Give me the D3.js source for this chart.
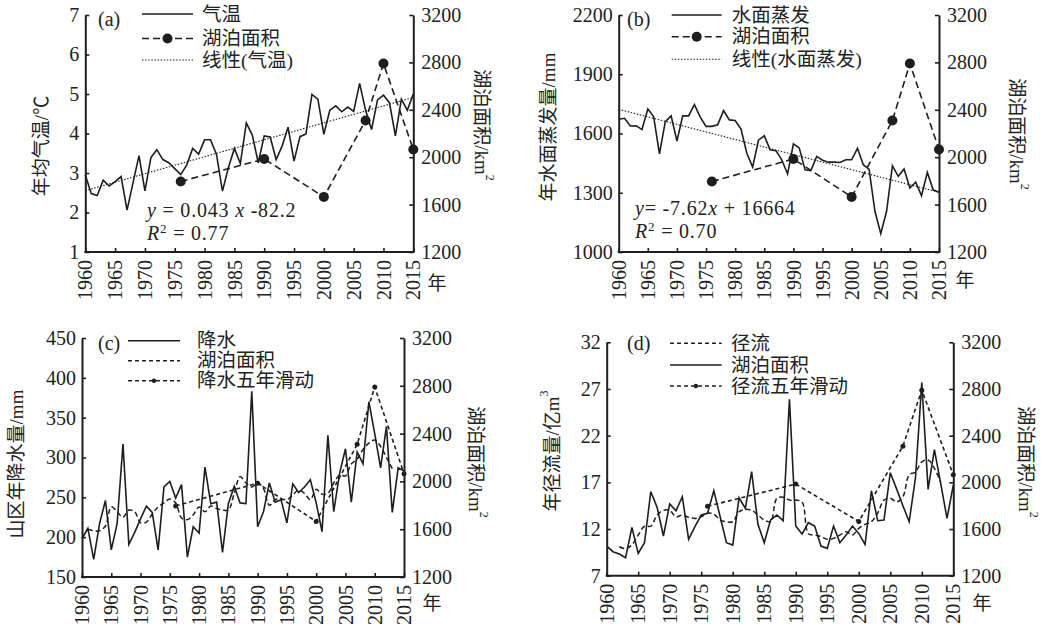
<!DOCTYPE html>
<html>
<head>
<meta charset="utf-8">
<style>
  body { margin: 0; background: #fff; }
  svg text { font-family: "Liberation Serif", "Noto Sans CJK SC", serif; fill: #222; }
</style>
</head>
<body>
<script src="https://cdnjs.cloudflare.com/ajax/libs/d3/7.8.5/d3.min.js"></script>
<script>
// ---- data ----
const years = d3.range(1960, 2016);
const temperature = [2.95, 2.48, 2.43, 2.82, 2.67, 2.78, 2.91, 2.06, 2.75, 3.44,
  2.55, 3.39, 3.59, 3.34, 3.26, 3.11, 2.96, 3.2, 3.62, 3.48,
  3.84, 3.84, 3.47, 2.54, 3.14, 3.62, 3.24, 4.27, 3.96, 3.26,
  3.94, 3.91, 3.34, 3.68, 4.16, 3.30, 3.92, 3.99, 4.99, 4.87,
  3.98, 4.59, 4.70, 4.55, 4.67, 4.56, 5.27, 4.59, 4.10, 4.85,
  4.97, 4.78, 3.94, 4.87, 4.59, 5.0];
const evaporation = [1672, 1677, 1638, 1639, 1620, 1724, 1686, 1497, 1660, 1689,
  1562, 1689, 1689, 1746, 1683, 1636, 1636, 1644, 1716, 1669,
  1666, 1622, 1500, 1430, 1566, 1588, 1517, 1513, 1467, 1395,
  1548, 1527, 1416, 1412, 1484, 1465, 1455, 1455, 1453, 1467,
  1467, 1525, 1442, 1418, 1206, 1093, 1206, 1437, 1383, 1420,
  1324, 1354, 1285, 1403, 1315, 1302];
const precipitation = [198, 211, 172, 217, 246, 184, 217, 317, 191, 206,
  223, 239, 231, 184, 263, 270, 249, 266, 175, 213,
  205, 288, 242, 244, 181, 242, 264, 243, 242, 383,
  213, 232, 268, 244, 247, 218, 267, 256, 263, 272,
  243, 207, 328, 232, 280, 311, 244, 307, 292, 370,
  330, 287, 339, 231, 287, 283];
const precipMAStart = 1961;
const precipMA = [210, 208, 208, 214, 238, 232, 225, 234, 232, 218,
  219, 229, 238, 243, 248, 243, 224, 222, 228, 238,
  232, 239, 236, 234, 234, 255, 276, 268, 263, 268,
  261, 240, 247, 248, 247, 253, 259, 255, 247, 260,
  254, 255, 268, 278, 277, 292, 298, 310, 318, 322,
  314, 300, 286];
const runoff = [10.17, 9.57, 9.32, 8.93, 12.18, 9.39, 10.53, 16.0, 14.32, 11.25,
  14.68, 13.96, 15.46, 10.89, 12.25, 13.5, 13.68, 16.1, 13.32, 10.53,
  10.28, 15.35, 14.21, 18.14, 12.5, 10.53, 12.96, 13.5, 12.89, 25.9,
  12.32, 11.46, 12.68, 12.32, 10.17, 9.93, 12.32, 10.53, 11.35, 12.32,
  11.53, 10.35, 16.1, 12.89, 12.96, 18.03, 16.3, 14.5, 12.78, 17.5,
  27.7, 16.25, 20.5, 16.9, 13.14, 16.7];
const runoffMAStart = 1962;
const runoffMA = [10.1, 9.9, 10.3, 11.35, 12.3, 12.3, 13.5, 14.0, 14.0, 13.3,
  13.5, 13.25, 13.14, 13.3, 13.7, 13.6, 12.96, 12.78, 12.78, 13.85,
  14.1, 14.0, 13.5, 12.96, 12.78, 15.3, 15.4, 15.1, 15.1, 14.9,
  11.5, 11.35, 11.2, 10.9, 11.0, 11.35, 11.7, 11.35, 12.07, 12.5,
  12.78, 13.7, 15.1, 15.3, 14.9, 15.46, 17.8, 18.1, 19.2, 19.4,
  18.5, 17.0];
const lakeYears = [1976, 1990, 2000, 2007, 2010, 2015];
const lakeArea = [1795, 1985, 1665, 2310, 2790, 2065];

const xTicks = d3.range(1960, 2016, 5);
const areaTicks = [1200, 1600, 2000, 2400, 2800, 3200];

const svg = d3.select("body").append("svg").attr("width", 1042).attr("height", 624);
const INK = "#1e1e1e";
const SERIF = '"Liberation Serif", "Noto Sans CJK SC", serif';

function fit(xs, ys) {
  const mx = d3.mean(xs), my = d3.mean(ys);
  const b = d3.sum(xs, (x, i) => (x - mx) * (ys[i] - my)) / d3.sum(xs, x => (x - mx) * (x - mx));
  return { b: b, a: my - b * mx };
}

function panel(p) {
  const g = svg.append("g");
  const x = d3.scaleLinear().domain([1960, 2015]).range([p.left, p.right]);
  const yL = d3.scaleLinear().domain(p.yDomain).range([p.bottom, p.top]);
  const yR = d3.scaleLinear().domain([1200, 3200]).range([p.bottom, p.top]);
  const fmt = d3.format("d");

  const style = sel => {
    sel.attr("font-family", null).attr("font-size", null);
    sel.selectAll("path.domain").attr("stroke", INK).attr("stroke-width", 2);
    sel.selectAll(".tick line").attr("stroke", INK).attr("stroke-width", 1.6);
    sel.selectAll("text").style("font-size", "20px").style("fill", "#222")
      .style("font-family", SERIF);
  };

  g.append("g").attr("transform", `translate(${p.left},0)`)
    .call(d3.axisLeft(yL).tickValues(p.yTicks).tickFormat(fmt).tickSize(-4).tickSizeOuter(0).tickPadding(6))
    .call(style);
  g.append("g").attr("transform", `translate(${p.right},0)`)
    .call(d3.axisRight(yR).tickValues(areaTicks).tickFormat(fmt).tickSize(-4).tickSizeOuter(0).tickPadding(8))
    .call(style);
  const bx = g.append("g").attr("transform", `translate(0,${p.bottom})`)
    .call(d3.axisBottom(x).tickValues(xTicks).tickFormat(fmt).tickSize(-4).tickSizeOuter(0))
    .call(style);
  bx.selectAll(".tick text")
    .attr("transform", "rotate(-90)")
    .attr("text-anchor", "end")
    .attr("x", -8).attr("y", 0).attr("dy", "0.33em");
  bx.select("path.domain").attr("d", `M${p.left - 1},0H${p.right + 1}`);

  g.append("text").attr("x", p.nian[0]).attr("y", p.nian[1])
    .attr("text-anchor", "middle").attr("dominant-baseline", "central")
    .attr("font-size", 19).text("年");

  // axis titles
  const lt = g.append("text").attr("transform", `translate(${p.ltitle[0]},${p.ltitle[1]}) rotate(-90)`)
    .attr("text-anchor", "middle").attr("dominant-baseline", "central").attr("font-size", 19);
  lt.append("tspan").text(p.ltext[0]);
  if (p.ltext[1]) lt.append("tspan").attr("dy", -8).attr("font-size", 12).text(p.ltext[1]);
  const rt = g.append("text").attr("transform", `translate(${p.rtitle[0]},${p.rtitle[1]}) rotate(90)`)
    .attr("text-anchor", "middle").attr("dominant-baseline", "central").attr("font-size", 19);
  rt.append("tspan").text("湖泊面积/km");
  rt.append("tspan").attr("dy", -8).attr("font-size", 12).text("2");

  // panel letter
  g.append("text").attr("x", p.letter[0]).attr("y", p.letter[1])
    .attr("dominant-baseline", "central").attr("font-size", 20).text(p.letterText);

  // main series (solid)
  g.append("path")
    .attr("d", d3.line().x((d, i) => x(1960 + i)).y(d => yL(d))(p.series))
    .attr("fill", "none").attr("stroke", INK).attr("stroke-width", 1.6);

  // trend line or moving average
  if (p.trend) {
    const f = fit(years, p.series);
    g.append("line")
      .attr("x1", x(1960)).attr("y1", yL(f.a + f.b * 1960))
      .attr("x2", x(2015)).attr("y2", yL(f.a + f.b * 2015))
      .attr("stroke", INK).attr("stroke-width", 1.1).attr("stroke-dasharray", "1.5,1.6");
  }
  if (p.ma) {
    g.append("path")
      .attr("d", d3.line().curve(d3.curveCatmullRom.alpha(0.5))
        .x((d, i) => x(p.maStart + i)).y(d => yL(d))(p.ma))
      .attr("fill", "none").attr("stroke", INK).attr("stroke-width", 1.5)
      .attr("stroke-dasharray", "5,3");
  }

  // lake area
  const lakePts = lakeYears.map((yr, i) => [x(yr), yR(lakeArea[i])]);
  g.append("path").attr("d", d3.line()(lakePts))
    .attr("fill", "none").attr("stroke", INK).attr("stroke-width", 1.6)
    .attr("stroke-dasharray", p.lakeDash);
  g.selectAll(null).data(lakePts).enter().append("circle")
    .attr("cx", d => d[0]).attr("cy", d => d[1]).attr("r", p.lakeR).attr("fill", INK);

  // legend
  p.legend.forEach((row, i) => {
    const y = p.legendY[i];
    g.append("line").attr("x1", p.legendX[0]).attr("x2", p.legendX[1])
      .attr("y1", y).attr("y2", y).attr("stroke", INK)
      .attr("stroke-width", row.dash === "1.5,1.6" ? 1.1 : 1.6)
      .attr("stroke-dasharray", row.dash);
    if (row.r) g.append("circle").attr("cx", (p.legendX[0] + p.legendX[1]) / 2).attr("cy", y)
      .attr("r", row.r).attr("fill", INK);
    g.append("text").attr("x", p.legendX[2]).attr("y", y)
      .attr("dominant-baseline", "central").attr("font-size", 19.5).text(row.label);
  });

  // equation
  if (p.eq) {
    const t1 = g.append("text").attr("x", p.eq.x).attr("y", p.eq.y).attr("font-size", 20)
      .attr("letter-spacing", 0.8);
    p.eq.parts.forEach(s => t1.append("tspan").attr("font-style", s[1] ? "italic" : "normal").text(s[0]));
    const t2 = g.append("text").attr("x", p.eq.x).attr("y", p.eq.y + 23).attr("font-size", 20)
      .attr("letter-spacing", 0.8);
    t2.append("tspan").attr("font-style", "italic").text("R");
    t2.append("tspan").attr("font-size", 13).attr("dy", -7).text("2");
    t2.append("tspan").attr("dy", 7).text(" = " + p.eq.r2);
  }
}

panel({
  left: 85.3, right: 413.3, top: 15, bottom: 252,
  yDomain: [1, 7], yTicks: [1, 2, 3, 4, 5, 6, 7],
  series: temperature, trend: true,
  lakeDash: "7,4", lakeR: 5,
  ltitle: [41, 146], ltext: ["年均气温/℃"], rtitle: [482, 125],
  nian: [437, 283], letter: [98, 19], letterText: "(a)",
  legendX: [142, 193, 202], legendY: [14, 38.5, 60],
  legend: [
    { label: "气温", dash: null },
    { label: "湖泊面积", dash: "7,4", r: 5 },
    { label: "线性(气温)", dash: "1.5,1.6" }
  ],
  eq: { x: 147, y: 217, r2: "0.77",
    parts: [["y", true], [" = 0.043 ", false], ["x", true], [" -82.2", false]] }
});

panel({
  left: 618.7, right: 939, top: 15, bottom: 252,
  yDomain: [1000, 2200], yTicks: [1000, 1300, 1600, 1900, 2200],
  series: evaporation, trend: true,
  lakeDash: "7,4", lakeR: 5,
  ltitle: [548, 127], ltext: ["年水面蒸发量/mm"], rtitle: [1017, 134],
  nian: [965, 280], letter: [627, 19], letterText: "(b)",
  legendX: [671.7, 721.7, 731.7], legendY: [15, 36.7, 59.3],
  legend: [
    { label: "水面蒸发", dash: null },
    { label: "湖泊面积", dash: "7,4", r: 5 },
    { label: "线性(水面蒸发)", dash: "1.5,1.6" }
  ],
  eq: { x: 635, y: 215, r2: "0.70",
    parts: [["y", true], ["= -7.62", false], ["x", true], [" + 16664", false]] }
});

panel({
  left: 82, right: 404, top: 338, bottom: 577,
  yDomain: [150, 450], yTicks: [150, 200, 250, 300, 350, 400, 450],
  series: precipitation, ma: precipMA, maStart: precipMAStart,
  lakeDash: "4,3", lakeR: 2.5,
  ltitle: [16, 464], ltext: ["山区年降水量/mm"], rtitle: [476, 462],
  nian: [432, 603], letter: [98, 343], letterText: "(c)",
  legendX: [128, 180, 197], legendY: [340.7, 360.7, 380.7],
  legend: [
    { label: "降水", dash: null },
    { label: "湖泊面积", dash: "4,3" },
    { label: "降水五年滑动", dash: "4,3", r: 2.2 }
  ]
});

panel({
  left: 606.7, right: 953.3, top: 342.3, bottom: 575.7,
  yDomain: [7, 32], yTicks: [7, 12, 17, 22, 27, 32],
  series: runoff, ma: runoffMA, maStart: runoffMAStart,
  lakeDash: "4,3", lakeR: 2.5,
  ltitle: [552, 451], ltext: ["年径流量/亿m", "3"], rtitle: [1026, 462],
  nian: [982, 603], letter: [627, 343], letterText: "(d)",
  legendX: [670, 721.7, 731], legendY: [343.3, 365, 386],
  legend: [
    { label: "径流", dash: "4,3" },
    { label: "湖泊面积", dash: null },
    { label: "径流五年滑动", dash: "4,3", r: 2.2 }
  ]
});
</script>
</body>
</html>
